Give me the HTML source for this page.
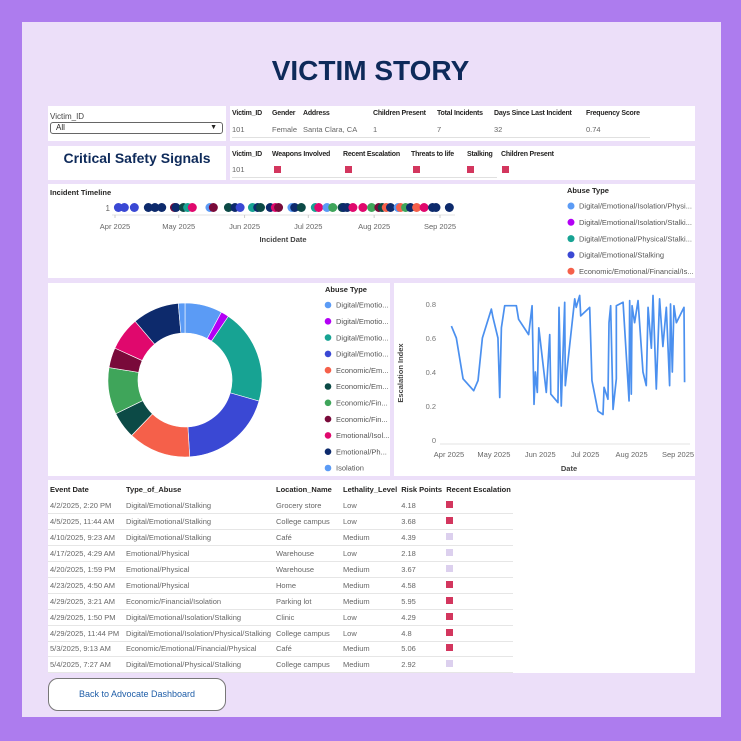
<!DOCTYPE html>
<html><head><meta charset="utf-8">
<style>
*{box-sizing:border-box;margin:0;padding:0}
body{width:741px;height:741px;background:#ad7cee;font-family:"Liberation Sans",sans-serif;position:relative;overflow:hidden;color:#252423}
.abs{position:absolute}
.inner{left:22px;top:22px;width:699px;height:695px;background:#ecdff9}
.panel{background:#fff}
.hdr{font-size:7px;font-weight:bold;color:#252423;white-space:nowrap;letter-spacing:-0.2px}
.val{font-size:7.5px;color:#666;white-space:nowrap}
.sq{display:inline-block;width:7px;height:7px;background:#d3365e}
.sq.l{background:#dcd0ee}
table{border-collapse:collapse}
td,th{font-size:7.5px;white-space:nowrap;text-align:left;padding:0 2px;height:15.9px}
th{font-weight:bold;color:#252423;height:17px}
td{color:#666;border-bottom:1px solid #e6e6e6}
</style></head><body>
<div class="abs inner"></div>
<div class="abs" style="left:0;width:741px;top:55px;text-align:center;font-size:28px;font-weight:bold;color:#0e2a5a">VICTIM STORY</div>

<div class="abs panel" style="left:48px;top:106px;width:178px;height:35px">
  <div class="abs" style="left:2px;top:6px;font-size:8px;color:#444">Victim_ID</div>
  <div class="abs" style="left:2px;top:16px;width:173px;height:12px;border:1px solid #666;border-radius:3px;font-size:8px;padding-left:5px;line-height:10px">All<span class="abs" style="right:5px;top:0;font-size:7px">▼</span></div>
</div>

<div class="abs panel" style="left:230px;top:106px;width:465px;height:35px">
  <div class="abs hdr" style="left:2px;top:4px">Victim_ID</div>
  <div class="abs hdr" style="left:42px;top:4px">Gender</div>
  <div class="abs hdr" style="left:73px;top:4px">Address</div>
  <div class="abs hdr" style="left:143px;top:4px">Children Present</div>
  <div class="abs hdr" style="left:207px;top:4px">Total Incidents</div>
  <div class="abs hdr" style="left:264px;top:4px">Days Since Last Incident</div>
  <div class="abs hdr" style="left:356px;top:4px">Frequency Score</div>
  <div class="abs val" style="left:2px;top:19px">101</div>
  <div class="abs val" style="left:42px;top:19px">Female</div>
  <div class="abs val" style="left:73px;top:19px">Santa Clara, CA</div>
  <div class="abs val" style="left:143px;top:19px">1</div>
  <div class="abs val" style="left:207px;top:19px">7</div>
  <div class="abs val" style="left:264px;top:19px">32</div>
  <div class="abs val" style="left:356px;top:19px">0.74</div>
  <div class="abs" style="left:2px;top:31px;width:418px;height:1px;background:#e0e0e0"></div>
</div>

<div class="abs panel" style="left:48px;top:146px;width:178px;height:34px">
  <div class="abs" style="left:0;width:178px;top:4px;text-align:center;font-size:14px;font-weight:bold;color:#0e2a5a">Critical Safety Signals</div>
</div>

<div class="abs panel" style="left:230px;top:146px;width:465px;height:34px">
  <div class="abs hdr" style="left:2px;top:5px">Victim_ID</div>
  <div class="abs hdr" style="left:42px;top:5px">Weapons Involved</div>
  <div class="abs hdr" style="left:113px;top:5px">Recent Escalation</div>
  <div class="abs hdr" style="left:181px;top:5px">Threats to life</div>
  <div class="abs hdr" style="left:237px;top:5px">Stalking</div>
  <div class="abs hdr" style="left:271px;top:5px">Children Present</div>
  <div class="abs val" style="left:2px;top:19px">101</div>
  <span class="abs sq" style="left:44px;top:20px"></span>
  <span class="abs sq" style="left:115px;top:20px"></span>
  <span class="abs sq" style="left:183px;top:20px"></span>
  <span class="abs sq" style="left:237px;top:20px"></span>
  <span class="abs sq" style="left:272px;top:20px"></span>
  <div class="abs" style="left:2px;top:31px;width:265px;height:1px;background:#e0e0e0"></div>
</div>

<div class="abs panel" style="left:48px;top:184px;width:647px;height:94px"></div>
<svg class="abs" style="left:0;top:0" width="741" height="741" id="tl"></svg>

<div class="abs panel" style="left:48px;top:283px;width:342px;height:193px"></div>
<div class="abs panel" style="left:394px;top:283px;width:301px;height:193px"></div>
<svg class="abs" style="left:0;top:0" width="741" height="741" id="ch"></svg>

<div class="abs panel" style="left:48px;top:480px;width:647px;height:193px">
<table style="position:absolute;left:0;top:1px">
<tr><th style="width:76px">Event Date</th><th style="width:150px">Type_of_Abuse</th><th style="width:67px">Location_Name</th><th style="width:58px">Lethality_Level</th><th style="width:45px">Risk Points</th><th style="width:68px">Recent Escalation</th></tr>
<tr><td>4/2/2025, 2:20 PM</td><td>Digital/Emotional/Stalking</td><td>Grocery store</td><td>Low</td><td>4.18</td><td><span class="sq"></span></td></tr>
<tr><td>4/5/2025, 11:44 AM</td><td>Digital/Emotional/Stalking</td><td>College campus</td><td>Low</td><td>3.68</td><td><span class="sq"></span></td></tr>
<tr><td>4/10/2025, 9:23 AM</td><td>Digital/Emotional/Stalking</td><td>Café</td><td>Medium</td><td>4.39</td><td><span class="sq l"></span></td></tr>
<tr><td>4/17/2025, 4:29 AM</td><td>Emotional/Physical</td><td>Warehouse</td><td>Low</td><td>2.18</td><td><span class="sq l"></span></td></tr>
<tr><td>4/20/2025, 1:59 PM</td><td>Emotional/Physical</td><td>Warehouse</td><td>Medium</td><td>3.67</td><td><span class="sq l"></span></td></tr>
<tr><td>4/23/2025, 4:50 AM</td><td>Emotional/Physical</td><td>Home</td><td>Medium</td><td>4.58</td><td><span class="sq"></span></td></tr>
<tr><td>4/29/2025, 3:21 AM</td><td>Economic/Financial/Isolation</td><td>Parking lot</td><td>Medium</td><td>5.95</td><td><span class="sq"></span></td></tr>
<tr><td>4/29/2025, 1:50 PM</td><td>Digital/Emotional/Isolation/Stalking</td><td>Clinic</td><td>Low</td><td>4.29</td><td><span class="sq"></span></td></tr>
<tr><td>4/29/2025, 11:44 PM</td><td>Digital/Emotional/Isolation/Physical/Stalking</td><td>College campus</td><td>Low</td><td>4.8</td><td><span class="sq"></span></td></tr>
<tr><td>5/3/2025, 9:13 AM</td><td>Economic/Emotional/Financial/Physical</td><td>Café</td><td>Medium</td><td>5.06</td><td><span class="sq"></span></td></tr>
<tr><td>5/4/2025, 7:27 AM</td><td>Digital/Emotional/Physical/Stalking</td><td>College campus</td><td>Medium</td><td>2.92</td><td><span class="sq l"></span></td></tr>
</table>
</div>

<div class="abs" style="left:48px;top:678px;width:178px;height:33px;background:#fff;border:1px solid #777;border-radius:10px;text-align:center;line-height:31px;font-size:9px;color:#1f5ea8">Back to Advocate Dashboard</div>

<script>
const NS='http://www.w3.org/2000/svg';
function mk(p,t,a,txt){const e=document.createElementNS(NS,t);for(const k in a)e.setAttribute(k,a[k]);if(txt!==undefined)e.textContent=txt;p.appendChild(e);return e;}
const colors=['#5b9bf5','#b300f5','#17a393','#3a48d4','#f5604a','#0c4a46','#3fa55a','#790a3a','#e0086d','#0d2a6c','#5b9bf5'];
const abuseTypes=['Digital/Emotio...','Digital/Emotio...','Digital/Emotio...','Digital/Emotio...','Economic/Em...','Economic/Em...','Economic/Fin...','Economic/Fin...','Emotional/Isol...','Emotional/Ph...','Isolation'];
const timelineLegend=['Digital/Emotional/Isolation/Physi...','Digital/Emotional/Isolation/Stalki...','Digital/Emotional/Physical/Stalki...','Digital/Emotional/Stalking','Economic/Emotional/Financial/Is...'];
const donutValues=[28,6,71,70,47,20,35,15,25,35,5];
const incidentDays=[1.6,4.4,9.1,15.7,18.8,22,28,28.7,32.2,34.2,36.4,44.7,46.3,53.4,56.5,58.9,64.7,67.2,68.5,73.1,75.5,77,83.3,84.6,87.7,94.3,95.9,99.8,102.5,106.9,107.7,109.3,112,116.7,120.8,124.2,125.8,127.7,129.7,133.3,134.4,136.8,139.1,142,145.5,149.5,151.1,157.4];
const incidentTypes=[3,3,3,9,9,9,7,9,5,2,8,0,7,5,9,3,2,9,5,9,8,7,0,9,5,2,8,0,6,5,9,9,8,8,6,7,5,4,9,0,4,6,9,4,8,9,9,9];
const lineDays=[1.6,4.9,9.4,16.5,19.4,22.3,28.3,29.4,32.7,33.9,35,37.2,45,46.5,53.2,55.5,56.8,57.7,59,60,65,67.3,68,72.8,73.5,75,77.3,77.7,84,85,87.3,88,94,95.5,99.5,102.9,103.6,106.2,106.9,108,109.6,111.8,111.8,116.3,120.3,120.7,121.8,122.3,124,126.3,129.6,131.8,133,135.2,136.3,138.5,140.7,142.9,145.2,147.4,148,149.2,150.3,151.9,157,157.4];
const lineValues=[0.67,0.60,0.36,0.29,0.35,0.60,0.77,0.72,0.60,0.25,0.66,0.79,0.79,0.71,0.62,0.79,0.21,0.40,0.28,0.66,0.28,0.62,0.27,0.22,0.78,0.20,0.81,0.32,0.83,0.78,0.85,0.73,0.78,0.35,0.17,0.15,0.31,0.24,0.69,0.79,0.18,0.36,0.79,0.81,0.23,0.82,0.27,0.79,0.69,0.82,0.40,0.32,0.78,0.54,0.85,0.30,0.83,0.55,0.78,0.32,0.80,0.40,0.79,0.69,0.78,0.34];
const monthLabels=['Apr 2025','May 2025','Jun 2025','Jul 2025','Aug 2025','Sep 2025'];
const monthDays=[0,30,61,91,122,153];
const yTicks=[0,0.2,0.4,0.6,0.8];

const tl=document.getElementById('tl');
const tx=d=>115+d*(325/153);
mk(tl,'text',{x:50,y:195,'font-size':7.5,'font-weight':'bold',fill:'#252423'},'Incident Timeline');
mk(tl,'text',{x:110,y:211,'font-size':8,fill:'#666','text-anchor':'end'},'1');
mk(tl,'line',{x1:112,x2:455,y1:215,y2:215,stroke:'#e3e3e3'});
monthLabels.forEach((m,i)=>{const x=tx(monthDays[i]);mk(tl,'line',{x1:x,x2:x,y1:215,y2:218,stroke:'#ccc'});const t=mk(tl,'text',{x:x,y:229,'font-size':7.5,fill:'#666','text-anchor':'middle'},m);});
const tt=mk(tl,'text',{x:283,y:242,'font-size':7.5,'font-weight':'bold',fill:'#444','text-anchor':'middle'},'Incident Date');
incidentDays.forEach((d,i)=>{const c=mk(tl,'circle',{cx:tx(d),cy:207.5,r:4.5,fill:colors[incidentTypes[i]]});

});
mk(tl,'text',{x:567,y:193,'font-size':7.5,'font-weight':'bold',fill:'#252423'},'Abuse Type');
timelineLegend.forEach((l,i)=>{const y=206+i*16.3;mk(tl,'circle',{cx:571,cy:y,r:3.5,fill:colors[i]});const t=mk(tl,'text',{x:579,y:y+2.7,'font-size':7.5,fill:'#555'},l);});

const ch=document.getElementById('ch');
const cx=185,cy=380,R=77,r=47;
const tot=donutValues.reduce((a,b)=>a+b,0);
let a0=0;
donutValues.forEach((v,i)=>{const a1=a0+v/tot*2*Math.PI;
 const p=(a,rr)=>[cx+rr*Math.sin(a),cy-rr*Math.cos(a)];
 const [x1,y1]=p(a0,R),[x2,y2]=p(a1,R),[x3,y3]=p(a1,r),[x4,y4]=p(a0,r);const lg=(a1-a0)>Math.PI?1:0;
 const s=mk(ch,'path',{d:`M${x1},${y1}A${R},${R} 0 ${lg} 1 ${x2},${y2}L${x3},${y3}A${r},${r} 0 ${lg} 0 ${x4},${y4}Z`,fill:colors[i],stroke:'#fff','stroke-width':0.6});
 
 
 a0=a1;});
mk(ch,'text',{x:325,y:292,'font-size':7.5,'font-weight':'bold',fill:'#252423'},'Abuse Type');
abuseTypes.forEach((l,i)=>{const y=305+i*16.3;mk(ch,'circle',{cx:328,cy:y,r:3.3,fill:colors[i]});const t=mk(ch,'text',{x:336,y:y+2.7,'font-size':7.5,fill:'#555'},l);});

const lx=d=>449+d*(229/153), ly=v=>440-v*170;
yTicks.forEach(v=>{const t=mk(ch,'text',{x:436,y:ly(v)+3,'font-size':7.5,fill:'#777','text-anchor':'end'},String(v));});
mk(ch,'line',{x1:440,x2:690,y1:444,y2:444,stroke:'#e3e3e3'});
monthLabels.forEach((m,i)=>{const t=mk(ch,'text',{x:lx(monthDays[i]),y:457,'font-size':7.5,fill:'#666','text-anchor':'middle'},m);});
mk(ch,'text',{x:569,y:471,'font-size':7.5,'font-weight':'bold',fill:'#444','text-anchor':'middle'},'Date');
mk(ch,'text',{x:403,y:373,'font-size':7.5,'font-weight':'bold',fill:'#444','text-anchor':'middle',transform:'rotate(-90 403 373)'},'Escalation Index');
const pl=mk(ch,'polyline',{points:lineDays.map((d,i)=>lx(d)+','+ly(lineValues[i])).join(' '),fill:'none',stroke:'#4b90ef','stroke-width':1.7,'stroke-linejoin':'round'});


</script>
</body></html>
